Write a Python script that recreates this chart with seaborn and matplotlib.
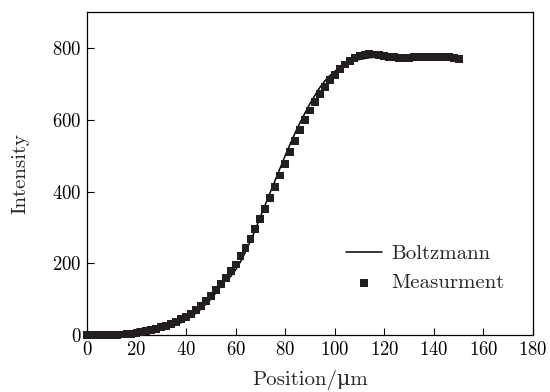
import pandas as pd
import matplotlib.pyplot as plt
import seaborn as sns

position = list(range(0, 152, 2))
measured = [0, 0, 0, 0, 0, 1, 1, 2, 3, 4,
            6, 8, 11, 14, 18, 22, 26, 31, 37, 44,
            51, 60, 70, 82, 96, 110, 126, 142, 160, 178,
            197, 220, 243, 268, 295, 323, 352, 382, 413, 445,
            478, 511, 542, 572, 600, 626, 650, 672, 692, 710,
            726, 741, 754, 765, 773, 779, 782, 783, 782, 780,
            777, 775, 774, 773, 773, 773, 774, 774, 775, 775,
            775, 775, 775, 774, 773, 770]

# Boltzmann fit curve
fit = [0, 0, 0, 0, 0, 1, 1, 1, 2, 2,
       3, 4, 6, 8, 11, 15, 19, 24, 29, 35,
       42, 51, 61, 72, 86, 100, 117, 135, 155, 163,
       182, 205, 232, 262, 295, 330, 364, 398, 432, 466,
       500, 532, 563, 592, 619, 645, 668, 690, 708, 723,
       735, 745, 753, 760, 765, 768, 771, 773, 774, 775,
       775, 775, 775, 775, 775, 775, 775, 775, 775, 775,
       775, 775, 775, 775, 775, 775]

df = pd.DataFrame({'Position': position, 'Measurment': measured, 'Boltzmann': fit})

sns.set_style('ticks')
plt.rcParams['font.family'] = ['cmr10', 'DejaVu Serif']
plt.rcParams['axes.formatter.use_mathtext'] = True
plt.rcParams['mathtext.fontset'] = 'cm'

fig = plt.figure(figsize=(5.5, 3.92), dpi=100)
ax = fig.add_axes([0.158, 0.145, 0.811, 0.824])

sns.lineplot(data=df, x='Position', y='Boltzmann', color='black', linewidth=1.1,
             label='Boltzmann', ax=ax)
sns.scatterplot(data=df, x='Position', y='Measurment', marker='s', s=32, color='#231f20',
                edgecolor='none', label='Measurment', ax=ax, zorder=3, clip_on=False)

ax.set_xlim(0, 180)
ax.set_ylim(0, 900)
ax.set_xticks(range(0, 181, 20))
ax.set_yticks(range(0, 801, 200))
ax.tick_params(direction='in', length=5, width=0.8, labelsize=13.5, colors='black', pad=4)
for s in ax.spines.values():
    s.set_linewidth(0.9)
    s.set_color('black')

ax.set_xlabel('Position/\u03bcm', fontsize=15, labelpad=8)
ax.set_ylabel('Intensity', fontsize=15, labelpad=16)

ax.legend(loc='lower right', bbox_to_anchor=(1.0, 0.045), frameon=False, fontsize=15,
          handlelength=1.75, handletextpad=0.45, labelspacing=0.5, borderaxespad=0.95)

fig.savefig('out.png', dpi=100)
